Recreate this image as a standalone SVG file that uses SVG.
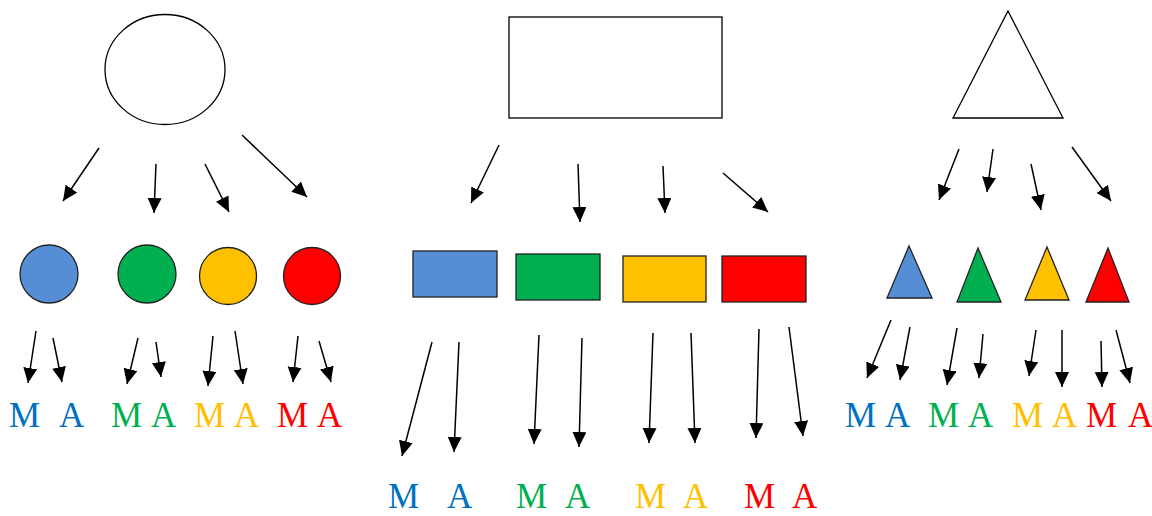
<svg xmlns="http://www.w3.org/2000/svg" width="1152" height="516" viewBox="0 0 1152 516">
<defs>
<marker id="ah" markerUnits="userSpaceOnUse" markerWidth="16" markerHeight="15" refX="15" refY="7" orient="auto">
<path d="M0,0 L15,7 L0,14 z" fill="#000"/>
</marker>
<style>
.big{fill:#fff;stroke:#000;stroke-width:1.3}
.sh{stroke:#222;stroke-width:1.3}
.b{fill:#558ED5}.g{fill:#00B050}.y{fill:#FFC000}.r{fill:#FF0000}
.c line{stroke:#000;stroke-width:1.5;marker-end:url(#ah)}
text{font-family:"Liberation Serif","Times New Roman",serif;font-size:35px}
.tb{fill:#0070C0}.tg{fill:#00B050}.ty{fill:#FFC000}.tr{fill:#FF0000}
</style>
</defs>
<rect width="1152" height="516" fill="#fff"/>
<g id="big-ellipse"><ellipse class="big" cx="165" cy="69.5" rx="60" ry="55"/></g>
<g id="big-rect"><rect class="big" x="509" y="17" width="213" height="101"/></g>
<g id="big-triangle"><polygon class="big" points="1008,11 1063,118 953,118"/></g>

<g id="circle-blue"><circle class="sh b" cx="49" cy="274" r="29"/></g>
<g id="circle-green"><circle class="sh g" cx="147" cy="274" r="29"/></g>
<g id="circle-yellow"><circle class="sh y" cx="228" cy="276" r="28.5"/></g>
<g id="circle-red"><circle class="sh r" cx="312" cy="276" r="28.5"/></g>

<g id="rect-blue"><rect class="sh b" x="413" y="251" width="84" height="46"/></g>
<g id="rect-green"><rect class="sh g" x="516" y="254" width="84" height="46"/></g>
<g id="rect-yellow"><rect class="sh y" x="623" y="256" width="83" height="46"/></g>
<g id="rect-red"><rect class="sh r" x="722" y="256" width="84" height="46"/></g>

<g id="tri-blue"><polygon class="sh b" points="909,246 932,298 887,298"/></g>
<g id="tri-green"><polygon class="sh g" points="978,248 1001,302 957,302"/></g>
<g id="tri-yellow"><polygon class="sh y" points="1047,247 1069,300 1025,300"/></g>
<g id="tri-red"><polygon class="sh r" points="1108,248 1129,302 1086,302"/></g>

<g class="c" id="connectors">
<line x1="99" y1="148" x2="63" y2="201"/>
<line x1="156" y1="164" x2="154" y2="213"/>
<line x1="205" y1="164" x2="229" y2="212"/>
<line x1="242" y1="135" x2="307" y2="197"/>
<line x1="36" y1="331" x2="28" y2="383"/>
<line x1="53" y1="338" x2="62" y2="382"/>
<line x1="138" y1="338" x2="127" y2="384"/>
<line x1="156" y1="342" x2="161" y2="377"/>
<line x1="213" y1="336" x2="208" y2="386"/>
<line x1="235" y1="331" x2="243" y2="384"/>
<line x1="298" y1="336" x2="293" y2="382"/>
<line x1="319" y1="341" x2="331" y2="382"/>

<line x1="499" y1="145" x2="471" y2="203"/>
<line x1="578" y1="164" x2="580" y2="222"/>
<line x1="663" y1="166" x2="665" y2="213"/>
<line x1="723" y1="173" x2="768" y2="212"/>
<line x1="432" y1="342" x2="402" y2="456"/>
<line x1="459" y1="342" x2="454" y2="452"/>
<line x1="539" y1="335" x2="534" y2="444"/>
<line x1="582" y1="338" x2="579" y2="447"/>
<line x1="653" y1="333" x2="649" y2="443"/>
<line x1="691" y1="333" x2="695" y2="443"/>
<line x1="759" y1="329" x2="756" y2="438"/>
<line x1="789" y1="327" x2="803" y2="436"/>

<line x1="959" y1="149" x2="939" y2="200"/>
<line x1="993" y1="149" x2="987" y2="192"/>
<line x1="1031" y1="164" x2="1041" y2="210"/>
<line x1="1072" y1="147" x2="1111" y2="201"/>
<line x1="891" y1="320" x2="867" y2="378"/>
<line x1="910" y1="327" x2="900" y2="380"/>
<line x1="957" y1="328" x2="947" y2="385"/>
<line x1="983" y1="334" x2="979" y2="378"/>
<line x1="1036" y1="330" x2="1029" y2="376"/>
<line x1="1062" y1="330" x2="1062" y2="387"/>
<line x1="1101" y1="341" x2="1102" y2="387"/>
<line x1="1116" y1="330" x2="1130" y2="383"/>
</g>

<g id="labels-left">
<text class="tb" x="9" y="427">M</text>
<text class="tb" x="59" y="427">A</text>
<text class="tg" x="111" y="427">M</text>
<text class="tg" x="151" y="427">A</text>
<text class="ty" x="194" y="427">M</text>
<text class="ty" x="234" y="427">A</text>
<text class="tr" x="277" y="427">M</text>
<text class="tr" x="317" y="427">A</text>
</g>
<g id="labels-middle">
<text class="tb" x="388" y="508">M</text>
<text class="tb" x="447" y="508">A</text>
<text class="tg" x="516" y="508">M</text>
<text class="tg" x="565" y="508">A</text>
<text class="ty" x="635" y="508">M</text>
<text class="ty" x="683" y="508">A</text>
<text class="tr" x="744" y="508">M</text>
<text class="tr" x="792" y="508">A</text>
</g>
<g id="labels-right">
<text class="tb" x="845" y="427">M</text>
<text class="tb" x="885" y="427">A</text>
<text class="tg" x="928" y="427">M</text>
<text class="tg" x="968" y="427">A</text>
<text class="ty" x="1012" y="427">M</text>
<text class="ty" x="1052" y="427">A</text>
<text class="tr" x="1086" y="427">M</text>
<text class="tr" x="1128" y="427">A</text>
</g>
</svg>
